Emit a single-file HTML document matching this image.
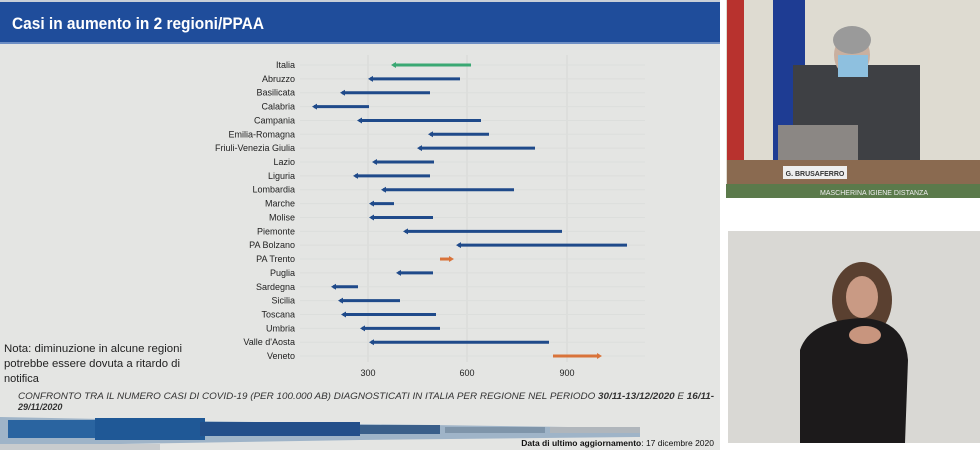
<!DOCTYPE html>
<html><head><meta charset="utf-8"><style>
body{margin:0;width:980px;height:450px;overflow:hidden;background:#fff;font-family:"Liberation Sans",sans-serif}
</style></head><body>
<svg width="980" height="450" xmlns="http://www.w3.org/2000/svg" font-family="Liberation Sans, sans-serif">
<rect x="0" y="0" width="720" height="450" fill="#e4e5e3"/>
<rect x="0" y="0" width="720" height="2" fill="#c8cfd8"/>
<rect x="0" y="2" width="720" height="40" fill="#1f4d9b"/>
<rect x="0" y="42" width="720" height="2" fill="#6d8ec4"/>
<text x="12" y="29" font-size="17" font-weight="bold" fill="#fff" textLength="252" lengthAdjust="spacingAndGlyphs">Casi in aumento in 2 regioni/PPAA</text>
<g stroke="#d6d8d6" stroke-width="1">
<line x1="368" y1="55" x2="368" y2="362"/><line x1="467" y1="55" x2="467" y2="362"/><line x1="567" y1="55" x2="567" y2="362"/>
</g>
<g id="rows" font-size="9" fill="#222" text-anchor="end"></g>
<g font-size="9" fill="#222" text-anchor="middle">
<text x="368" y="376">300</text><text x="467" y="376">600</text><text x="567" y="376">900</text>
</g>
<text x="4" y="352" font-size="11" fill="#222" textLength="178" lengthAdjust="spacingAndGlyphs">Nota: diminuzione in alcune regioni</text>
<text x="4" y="367" font-size="11" fill="#222" textLength="176" lengthAdjust="spacingAndGlyphs">potrebbe essere dovuta a ritardo di</text>
<text x="4" y="382" font-size="11" fill="#222">notifica</text>
<text x="18" y="399" font-size="9" font-style="italic" fill="#333" textLength="696" lengthAdjust="spacingAndGlyphs">CONFRONTO TRA IL NUMERO CASI DI COVID-19 (PER 100.000 AB) DIAGNOSTICATI IN ITALIA PER REGIONE NEL PERIODO <tspan font-weight="bold">30/11-13/12/2020</tspan> E <tspan font-weight="bold">16/11-</tspan></text>
<text x="18" y="410" font-size="9" font-style="italic" font-weight="bold" fill="#333">29/11/2020</text>
<polygon points="0,417 360,424 640,428 640,437 360,440 0,446" fill="#9fb4c8"/>
<rect x="8" y="420" width="90" height="18" fill="#2a64a0"/>
<rect x="95" y="418" width="110" height="22" fill="#1f5896"/>
<rect x="200" y="422" width="160" height="14" fill="#234f8a"/>
<rect x="360" y="425" width="80" height="9" fill="#3a5f8a"/>
<rect x="445" y="427" width="100" height="6" fill="#7f95aa"/>
<rect x="550" y="427" width="90" height="6" fill="#b0b6bc"/>
<rect x="0" y="444" width="160" height="6" fill="#c9ccce"/>
<text x="714" y="446" font-size="8.5" fill="#111" text-anchor="end"><tspan font-weight="bold">Data di ultimo aggiornamento</tspan>: 17 dicembre 2020</text>
<!-- right videos -->
<rect x="726" y="0" width="254" height="198" fill="#dedbd1"/>
<rect x="727" y="0" width="17" height="160" fill="#b8322e"/>
<rect x="773" y="0" width="32" height="160" fill="#1e3c93"/>
<rect x="793" y="65" width="127" height="95" fill="#3e4044"/>
<ellipse cx="852" cy="55" rx="18" ry="22" fill="#c9b0a0"/>
<ellipse cx="852" cy="40" rx="19" ry="14" fill="#9a9a9a"/>
<rect x="838" y="55" width="30" height="22" fill="#8ec0df"/>
<rect x="778" y="125" width="80" height="48" fill="#8b8784"/>
<rect x="727" y="160" width="253" height="25" fill="#8a6a50"/>
<rect x="783" y="166" width="64" height="13" fill="#eee"/>
<text x="815" y="176" font-size="7" font-weight="bold" fill="#333" text-anchor="middle">G. BRUSAFERRO</text>
<rect x="726" y="184" width="254" height="14" fill="#5b7a4b"/>
<text x="820" y="195" font-size="7" fill="#eee">MASCHERINA   IGIENE   DISTANZA</text>
<rect x="728" y="231" width="252" height="212" fill="#d9d8d4"/>
<ellipse cx="862" cy="300" rx="30" ry="38" fill="#5a4030"/>
<ellipse cx="862" cy="297" rx="16" ry="21" fill="#c99a84"/>
<path d="M800 443 L800 350 Q810 320 862 318 Q905 320 908 360 L905 443 Z" fill="#1c1a1b"/>
<ellipse cx="865" cy="335" rx="16" ry="9" fill="#c8957e"/>
</svg>
<script>
const rows=[["Italia",393,471,"g"],["Abruzzo",370,460],["Basilicata",342,430],["Calabria",314,369],["Campania",359,481],["Emilia-Romagna",430,489],["Friuli-Venezia Giulia",419,535],["Lazio",374,434],["Liguria",355,430],["Lombardia",383,514],["Marche",371,394],["Molise",371,433],["Piemonte",405,562],["PA Bolzano",458,627],["PA Trento",440,451,"o"],["Puglia",398,433],["Sardegna",333,358],["Sicilia",340,400],["Toscana",343,436],["Umbria",362,440],["Valle d'Aosta",371,549],["Veneto",553,599,"o"]];
const g=document.getElementById("rows");const ns="http://www.w3.org/2000/svg";const svg=g.ownerSVGElement;
rows.forEach((r,i)=>{const y=65+i*13.86;
 const gl=document.createElementNS(ns,"line");gl.setAttribute("x1",300);gl.setAttribute("x2",645);gl.setAttribute("y1",y);gl.setAttribute("y2",y);gl.setAttribute("stroke","#dcdedc");svg.insertBefore(gl,g);
 const t=document.createElementNS(ns,"text");t.setAttribute("x",295);t.setAttribute("y",y+3);t.textContent=r[0];g.appendChild(t);
 const c=r[3]=="g"?"#3aa873":r[3]=="o"?"#d9733a":"#1f4a8a";
 const l=document.createElementNS(ns,"line");l.setAttribute("x1",r[1]);l.setAttribute("x2",r[2]);l.setAttribute("y1",y);l.setAttribute("y2",y);l.setAttribute("stroke",c);l.setAttribute("stroke-width",3);svg.appendChild(l);
 const p=document.createElementNS(ns,"polygon");
 if(r[3]=="o"){p.setAttribute("points",`${r[2]+3},${y} ${r[2]-2},${y-3} ${r[2]-2},${y+3}`);}
 else{p.setAttribute("points",`${r[1]-2},${y} ${r[1]+3},${y-3} ${r[1]+3},${y+3}`);}
 p.setAttribute("fill",c);svg.appendChild(p);
});
</script>
</body></html>
